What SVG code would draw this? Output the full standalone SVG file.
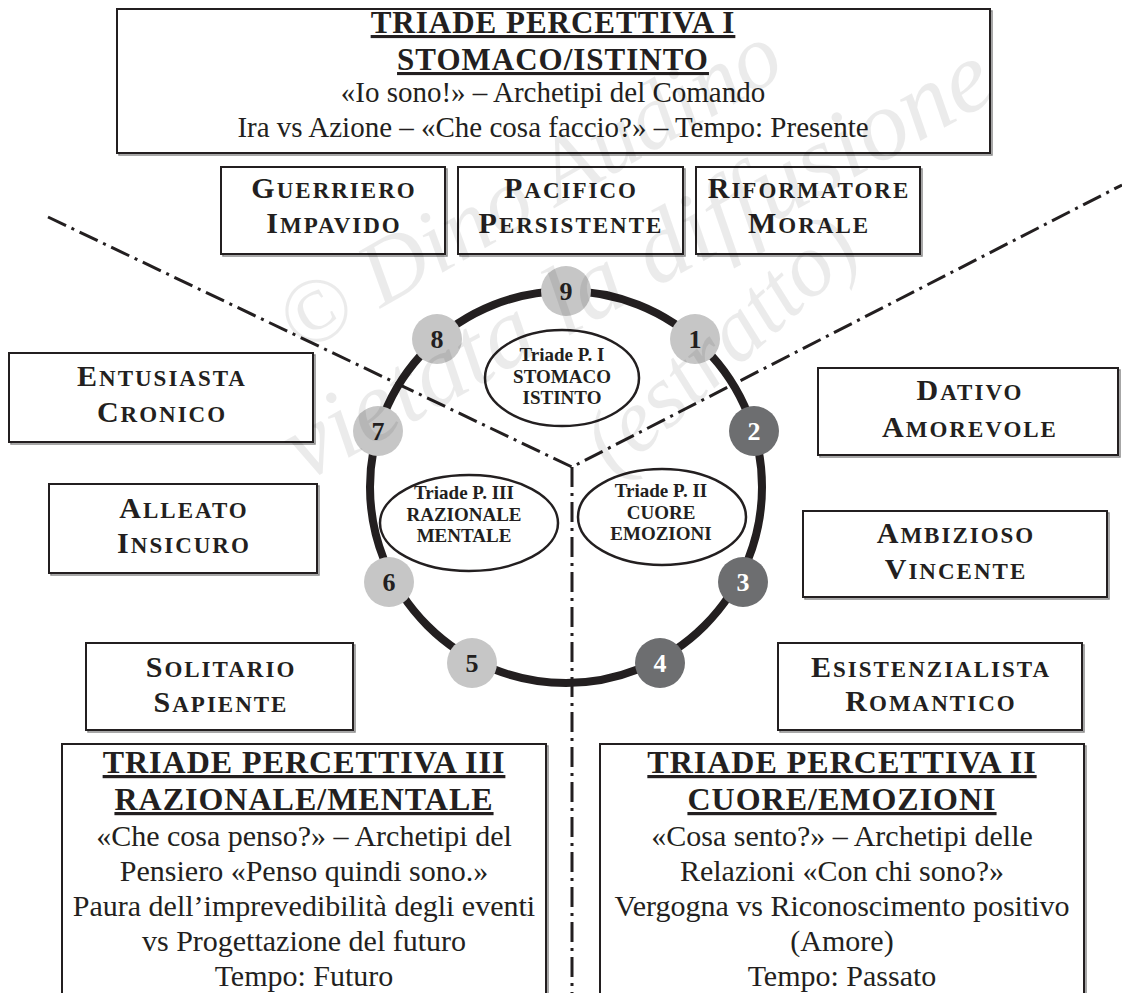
<svg xmlns="http://www.w3.org/2000/svg" width="1122" height="993" viewBox="0 0 1122 993">
<defs>
<style>
.bx{fill:#fff;stroke:#231f20;stroke-width:2}
.sh{fill:none;stroke:#8a8a8a;stroke-width:1.5}
.lbl{font-family:"Liberation Serif","Times New Roman",serif;font-weight:bold;font-size:23px;letter-spacing:2px;text-anchor:middle;fill:#231f20}
.cap{font-size:30px}
.hd{font-family:"Liberation Serif","Times New Roman",serif;font-weight:bold;font-size:32px;letter-spacing:1px;text-anchor:middle;fill:#231f20;text-decoration:underline}
.bd{font-family:"Liberation Serif","Times New Roman",serif;font-size:30px;text-anchor:middle;fill:#231f20}
.dd{fill:none;stroke:#231f20;stroke-width:3;stroke-dasharray:20 6 3 6}
.ring{fill:none;stroke:#231f20;stroke-width:8}
.lt{fill:#c6c6c6}
.dk{fill:#6d6e70}
.num{font-family:"Liberation Serif","Times New Roman",serif;font-weight:bold;font-size:26px;text-anchor:middle}
.el{fill:#fff;stroke:#231f20;stroke-width:2.5}
.et{font-family:"Liberation Serif","Times New Roman",serif;font-weight:bold;font-size:19px;text-anchor:middle;fill:#231f20}
.wm{font-family:"Liberation Serif","Times New Roman",serif;font-style:italic;fill:#000;fill-opacity:0.08}
</style>
</defs>
<rect width="1122" height="993" fill="#fff"/>

<g id="connectors">
<polyline class="dd" points="48,217 572,467 1122,185"/>
<line class="dd" x1="572" y1="467" x2="572" y2="993"/>
</g>

<g id="top-box">
<rect class="sh" x="119" y="11" width="873" height="144"/>
<rect class="bx" x="117" y="9" width="873" height="144"/>
<text class="hd" x="553" y="33" style="font-size:31px">TRIADE PERCETTIVA I</text>
<text class="hd" x="553" y="70" style="font-size:31px">STOMACO/ISTINTO</text>
<text class="bd" x="553" y="102" style="font-size:29px">«Io sono!» – Archetipi del Comando</text>
<text class="bd" x="553" y="137" style="font-size:29px">Ira vs Azione – «Che cosa faccio?» – Tempo: Presente</text>
</g>

<g id="guerriero">
<rect class="sh" x="223" y="169" width="224" height="87"/>
<rect class="bx" x="221" y="167" width="224" height="87"/>
<text class="lbl" x="334" y="198"><tspan class="cap">G</tspan>UERRIERO</text>
<text class="lbl" x="334" y="233"><tspan class="cap">I</tspan>MPAVIDO</text>
</g>
<g id="pacifico">
<rect class="sh" x="460" y="169" width="225" height="87"/>
<rect class="bx" x="458" y="167" width="225" height="87"/>
<text class="lbl" x="571" y="198"><tspan class="cap">P</tspan>ACIFICO</text>
<text class="lbl" x="571" y="233"><tspan class="cap">P</tspan>ERSISTENTE</text>
</g>
<g id="riformatore">
<rect class="sh" x="698" y="169" width="224" height="87"/>
<rect class="bx" x="696" y="167" width="224" height="87"/>
<text class="lbl" x="809" y="198"><tspan class="cap">R</tspan>IFORMATORE</text>
<text class="lbl" x="809" y="233"><tspan class="cap">M</tspan>ORALE</text>
</g>

<g id="entusiasta">
<rect class="sh" x="11" y="355" width="304" height="89"/>
<rect class="bx" x="9" y="353" width="304" height="89"/>
<text class="lbl" x="162" y="386"><tspan class="cap">E</tspan>NTUSIASTA</text>
<text class="lbl" x="162" y="422"><tspan class="cap">C</tspan>RONICO</text>
</g>
<g id="dativo">
<rect class="sh" x="820" y="370" width="300" height="87"/>
<rect class="bx" x="818" y="368" width="300" height="87"/>
<text class="lbl" x="970" y="400"><tspan class="cap">D</tspan>ATIVO</text>
<text class="lbl" x="970" y="437"><tspan class="cap">A</tspan>MOREVOLE</text>
</g>
<g id="alleato">
<rect class="sh" x="51" y="486" width="268" height="89"/>
<rect class="bx" x="49" y="484" width="268" height="89"/>
<text class="lbl" x="184" y="518"><tspan class="cap">A</tspan>LLEATO</text>
<text class="lbl" x="184" y="553"><tspan class="cap">I</tspan>NSICURO</text>
</g>
<g id="ambizioso">
<rect class="sh" x="805" y="513" width="304" height="86"/>
<rect class="bx" x="803" y="511" width="304" height="86"/>
<text class="lbl" x="956" y="543"><tspan class="cap">A</tspan>MBIZIOSO</text>
<text class="lbl" x="956" y="579"><tspan class="cap">V</tspan>INCENTE</text>
</g>
<g id="solitario">
<rect class="sh" x="88" y="645" width="267" height="87"/>
<rect class="bx" x="86" y="643" width="267" height="87"/>
<text class="lbl" x="221" y="677"><tspan class="cap">S</tspan>OLITARIO</text>
<text class="lbl" x="221" y="712"><tspan class="cap">S</tspan>APIENTE</text>
</g>
<g id="esistenzialista">
<rect class="sh" x="780" y="645" width="304" height="87"/>
<rect class="bx" x="778" y="643" width="304" height="87"/>
<text class="lbl" x="931" y="677"><tspan class="cap">E</tspan>SISTENZIALISTA</text>
<text class="lbl" x="931" y="711"><tspan class="cap">R</tspan>OMANTICO</text>
</g>

<g id="bottom-left">
<rect class="sh" x="64" y="746" width="484" height="260"/>
<rect class="bx" x="62" y="744" width="484" height="260"/>
<text class="hd" x="304" y="773">TRIADE PERCETTIVA III</text>
<text class="hd" x="304" y="810">RAZIONALE/MENTALE</text>
<text class="bd" x="304" y="846">«Che cosa penso?» – Archetipi del</text>
<text class="bd" x="304" y="881">Pensiero «Penso quindi sono.»</text>
<text class="bd" x="304" y="916">Paura dell’imprevedibilità degli eventi</text>
<text class="bd" x="304" y="951">vs Progettazione del futuro</text>
<text class="bd" x="304" y="986">Tempo: Futuro</text>
</g>
<g id="bottom-right">
<rect class="sh" x="602" y="746" width="484" height="260"/>
<rect class="bx" x="600" y="744" width="484" height="260"/>
<text class="hd" x="842" y="773">TRIADE PERCETTIVA II</text>
<text class="hd" x="842" y="810">CUORE/EMOZIONI</text>
<text class="bd" x="842" y="846">«Cosa sento?» – Archetipi delle</text>
<text class="bd" x="842" y="881">Relazioni «Con chi sono?»</text>
<text class="bd" x="842" y="916">Vergogna vs Riconoscimento positivo</text>
<text class="bd" x="842" y="951">(Amore)</text>
<text class="bd" x="842" y="986">Tempo: Passato</text>
</g>

<g id="ring">
<circle class="ring" cx="566" cy="487" r="196"/>
</g>

<g id="triade-1">
<ellipse class="el" cx="562" cy="378" rx="77" ry="48"/>
<text class="et" x="562" y="361">Triade P. I</text>
<text class="et" x="562" y="383">STOMACO</text>
<text class="et" x="562" y="404">ISTINTO</text>
</g>
<g id="triade-3">
<ellipse class="el" cx="469" cy="523" rx="89" ry="48"/>
<text class="et" x="464" y="499">Triade P. III</text>
<text class="et" x="464" y="521">RAZIONALE</text>
<text class="et" x="464" y="542">MENTALE</text>
</g>
<g id="triade-2">
<ellipse class="el" cx="662" cy="517" rx="84" ry="48"/>
<text class="et" x="661" y="497">Triade P. II</text>
<text class="et" x="661" y="519">CUORE</text>
<text class="et" x="661" y="540">EMOZIONI</text>
</g>

<g id="n9"><circle class="lt" cx="566" cy="291" r="25"/><text class="num" x="566" y="300" fill="#231f20">9</text></g>
<g id="n1"><circle class="lt" cx="695" cy="339" r="25"/><text class="num" x="695" y="348" fill="#231f20">1</text></g>
<g id="n2"><circle class="dk" cx="754" cy="431" r="25"/><text class="num" x="754" y="440" fill="#fff">2</text></g>
<g id="n3"><circle class="dk" cx="743" cy="582" r="25"/><text class="num" x="743" y="591" fill="#fff">3</text></g>
<g id="n4"><circle class="dk" cx="660" cy="663" r="25"/><text class="num" x="660" y="672" fill="#fff">4</text></g>
<g id="n5"><circle class="lt" cx="472" cy="663" r="25"/><text class="num" x="472" y="672" fill="#231f20">5</text></g>
<g id="n6"><circle class="lt" cx="389" cy="582" r="25"/><text class="num" x="389" y="591" fill="#231f20">6</text></g>
<g id="n7"><circle class="lt" cx="378" cy="431" r="25"/><text class="num" x="378" y="440" fill="#231f20">7</text></g>
<g id="n8"><circle class="lt" cx="437" cy="339" r="25"/><text class="num" x="437" y="348" fill="#231f20">8</text></g>

<g id="watermark">
<text class="wm" transform="translate(300,355) rotate(-30)" font-size="92">© Dino Audino</text>
<text class="wm" transform="translate(305,482) rotate(-29)" font-size="100">vietata la diffusione</text>
<text class="wm" transform="translate(615,478) rotate(-42)" font-size="90">(estratto)</text>
</g>
</svg>
